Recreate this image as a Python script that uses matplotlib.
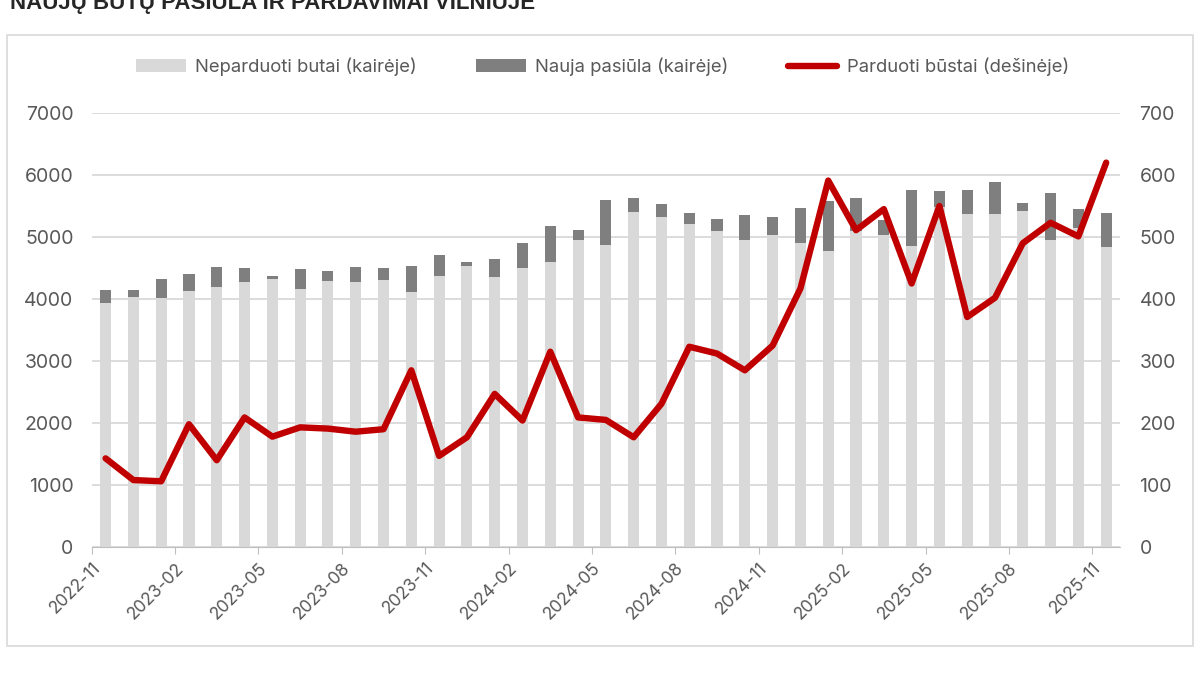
import matplotlib
matplotlib.use("AGG")
import matplotlib.pyplot as plt
from matplotlib.patches import Rectangle

# monthly data 2022-11 .. 2025-11
months = ["2022-11", "2022-12", "2023-01", "2023-02", "2023-03", "2023-04", "2023-05",
          "2023-06", "2023-07", "2023-08", "2023-09", "2023-10", "2023-11", "2023-12",
          "2024-01", "2024-02", "2024-03", "2024-04", "2024-05", "2024-06", "2024-07",
          "2024-08", "2024-09", "2024-10", "2024-11", "2024-12", "2025-01", "2025-02",
          "2025-03", "2025-04", "2025-05", "2025-06", "2025-07", "2025-08", "2025-09",
          "2025-10", "2025-11"]
unsold = [3935, 4032, 4022, 4130, 4195, 4270, 4319, 4162, 4286, 4270, 4303, 4114, 4373,
          4535, 4351, 4497, 4600, 4951, 4870, 5411, 5324, 5216, 5092, 4957, 5027, 4903,
          4778, 5100, 5030, 4852, 5480, 5370, 5370, 5418, 4958, 5150, 4836]
new_supply = [206, 109, 297, 275, 319, 222, 54, 314, 173, 244, 189, 416, 335,
              65, 298, 400, 578, 157, 730, 211, 211, 173, 194, 400, 297, 562,
              800, 535, 250, 910, 261, 392, 524, 138, 756, 300, 545]
sold = [143, 108, 106, 198, 140, 209, 178, 193, 191, 186, 190, 285, 147,
        177, 247, 204, 315, 209, 205, 177, 231, 323, 312, 285, 325, 417,
        591, 511, 545, 425, 550, 371, 402, 490, 523, 501, 620]

plt.rcParams["font.family"] = ["Inter", "DejaVu Sans"]
txt = "#595959"

fig = plt.figure(figsize=(12, 6.75), dpi=100)
ax = fig.add_axes([0.0764, 0.1896, 0.857, 0.643])
ax2 = ax.twinx()

x = list(range(len(months)))
b1 = ax.bar(x, unsold, width=0.4, color="#d9d9d9", zorder=2, label="Neparduoti butai (kairėje)")
b2 = ax.bar(x, new_supply, width=0.4, bottom=unsold, color="#7f7f7f", zorder=2,
            label="Nauja pasiūla (kairėje)")
l1, = ax2.plot(x, sold, color="#c00000", lw=4.6, solid_joinstyle="round",
               solid_capstyle="round", label="Parduoti būstai (dešinėje)")

ax.set_xlim(-0.5, len(months) - 0.5)
ax.set_ylim(0, 7000)
ax2.set_ylim(0, 700)
ax.set_yticks(range(0, 7001, 1000))
ax2.set_yticks(range(0, 701, 100))
ax.yaxis.grid(True, color="#d9d9d9", lw=1.3, zorder=0)
ax.set_axisbelow(True)

ticks = [i - 0.5 for i in range(0, len(months), 3)]
ax.set_xticks(ticks)
ax.set_xticklabels(months[::3], rotation=45, ha="right", rotation_mode="anchor")

for a in (ax, ax2):
    for s in a.spines.values():
        s.set_visible(False)
ax.spines["bottom"].set_visible(True)
ax.spines["bottom"].set_color("#bfbfbf")
ax.tick_params(axis="x", length=5, color="#bfbfbf", labelsize=12.5, labelcolor=txt, pad=4)
ax.tick_params(axis="y", length=0, labelsize=14, labelcolor=txt, pad=13)
ax2.tick_params(axis="y", length=0, labelsize=14, labelcolor=txt, pad=14)

fig.legend(handles=[b1, b2, l1], loc="center", bbox_to_anchor=(0.502, 0.9007), ncol=3,
           frameon=False, fontsize=13.3, labelcolor=txt, handlelength=2.7,
           handleheight=0.7, columnspacing=3.2, handletextpad=0.5)

fig.text(0.008, 1 - 9 / 675, "NAUJŲ BŪTŲ PASIŪLA IR PARDAVIMAI VILNIUJE", fontsize=16,
         fontweight="bold", color="#262626", va="baseline", family="Liberation Sans")
fig.patches.append(Rectangle((7 / 1200, 1 - 646 / 675), 1186 / 1200, 611 / 675,
                             transform=fig.transFigure, fill=False, edgecolor="#d9d9d9", lw=1.2))

plt.savefig("out.png")
